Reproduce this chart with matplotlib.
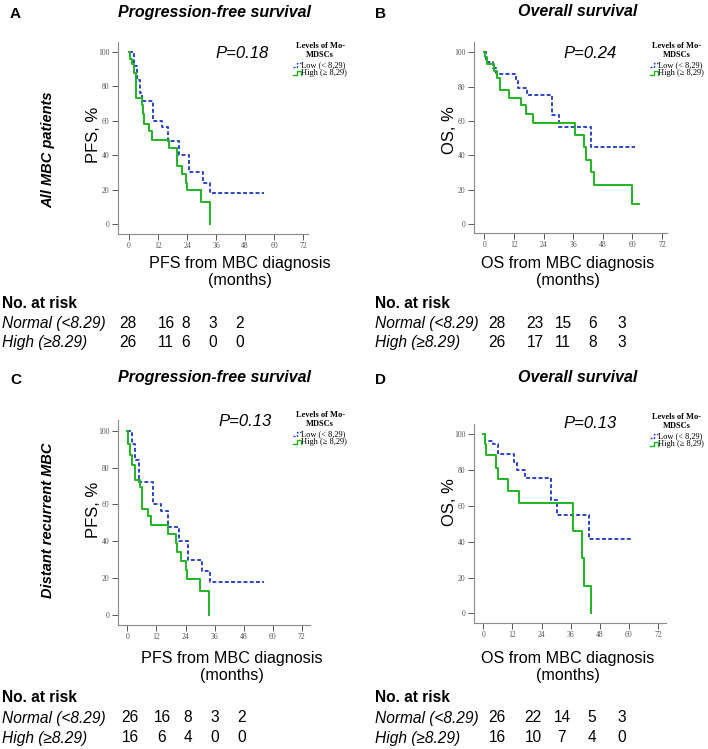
import matplotlib
matplotlib.use("Agg")
import matplotlib.pyplot as plt
from matplotlib.lines import Line2D

# ---- data (months, % surviving) ----
# Panel A: PFS, all MBC patients
pfs_all_low_t = [0, 2.0, 3.3, 4.5, 5.2, 10.0, 13.5, 16.0, 20.7, 24.8, 30.5, 33.5, 56.0]
pfs_all_low_s = [100, 92, 84, 76, 71.5, 60, 56.5, 48, 40, 30, 24, 18, 18]
pfs_all_high_t = [0, 0.5, 1.1, 2.0, 3.0, 5.2, 5.6, 6.0, 8.3, 9.5, 16.5, 19.7, 20.0, 21.9, 23.6, 24.1, 29.7, 33.5]
pfs_all_high_s = [100, 96, 93, 88, 73, 69, 64, 58, 54, 49, 44, 39, 34, 29, 24, 19.6, 13, 0]

# Panel B: OS, all MBC patients
os_all_low_t = [0, 0.5, 3.6, 4.7, 5.7, 12.7, 13.8, 17.4, 27.5, 30.3, 43.4, 60.9]
os_all_low_s = [100, 94, 91, 88, 87, 83, 79, 75, 63.4, 56.5, 45, 45]
os_all_high_t = [0, 0.3, 1.0, 4.0, 5.0, 6.3, 10.0, 14.7, 17.1, 19.8, 36.7, 40.4, 41.1, 43.1, 44.3, 60.0, 62.6]
os_all_high_s = [100, 97, 93, 89, 85, 78, 73.5, 69, 64, 59, 52, 45, 37, 30, 22.5, 11.5, 11.5]

# Panel C: PFS, distant recurrent MBC
pfs_dr_low_t = [0, 2.0, 3.3, 4.8, 10.6, 13.8, 16.8, 21.2, 25.1, 30.9, 34.0, 56.4]
pfs_dr_low_s = [100, 93, 84, 72, 60.4, 56.4, 48, 40, 30, 24, 17.7, 17.7]
pfs_dr_high_t = [0, 0.3, 1.0, 2.0, 3.0, 5.3, 6.0, 8.5, 9.6, 16.7, 20.0, 20.3, 22.2, 24.1, 24.7, 29.9, 33.5]
pfs_dr_high_s = [100, 93, 87, 81.6, 73, 69.4, 57.7, 53.5, 49, 44, 39, 34.2, 29.2, 24.3, 19.8, 13, 0]

# Panel D: OS, distant recurrent MBC
os_dr_low_t = [0, 0.5, 4.1, 6.2, 12.6, 14.0, 17.3, 27.8, 30.2, 43.5, 61.4]
os_dr_low_s = [100, 96, 94, 88.5, 84.4, 80, 75.5, 63, 55, 41.4, 41.4]
os_dr_high_t = [0, 0.5, 1.0, 5.2, 6.2, 10.1, 14.8, 36.8, 40.7, 41.4, 44.5]
os_dr_high_s = [100, 94, 88, 81, 75, 68, 61.3, 46, 31, 15.4, 0]

# numbers at risk
risk_rows = ["Normal (<8.29)", "High (\u22658.29)"]
risk_a = [[28, 16, 8, 3, 2], [26, 11, 6, 0, 0]]
risk_b = [[28, 23, 15, 6, 3], [26, 17, 11, 8, 3]]
risk_c = [[26, 16, 8, 3, 2], [16, 6, 4, 0, 0]]
risk_d = [[26, 22, 14, 5, 3], [16, 10, 7, 4, 0]]

p_values = ["P=0.18", "P=0.24", "P=0.13", "P=0.13"]
xticks = [0, 12, 24, 36, 48, 60, 72]
yticks = [0, 20, 40, 60, 80, 100]

W, H = 708, 749
BLUE = "#2b44c4"
GREEN = "#1fb51f"
SANS = "Liberation Sans"
SERIF = "Liberation Serif"

fig = plt.figure(figsize=(W / 100, H / 100), dpi=100)


def fx(x):
    return x / W


def fy(y):
    return 1 - y / H


def txt(x, y, s, **kw):
    kw.setdefault("family", SANS)
    fig.text(fx(x), fy(y), s, **kw)


def make_axes(left, right, top, bottom, xlim, ylim):
    ax = fig.add_axes([fx(left), fy(bottom), (right - left) / W, (bottom - top) / H])
    ax.set_xlim(*xlim)
    ax.set_ylim(*ylim)
    for s in ["top", "right"]:
        ax.spines[s].set_visible(False)
    for s in ["left", "bottom"]:
        ax.spines[s].set_color("#8a8a8a")
        ax.spines[s].set_linewidth(0.8)
    ax.set_xticks(xticks)
    ax.set_yticks(yticks)
    ax.tick_params(direction="out", length=4, width=0.7, colors="#555555",
                   labelsize=5.5, pad=2)
    for lab in ax.get_xticklabels() + ax.get_yticklabels():
        lab.set_family(SERIF)
    return ax


def km(ax, t, s, color, ls):
    ax.step(t, s, where="post", color=color, linestyle=ls, lw=1.4,
            dashes=(2, 1.2) if ls == "--" else (None, None))


def legend(x, y):
    # x,y = pixel position of the legend title centre / top
    txt(x, y, "Levels of Mo-\nMDSCs", family=SERIF, fontsize=6, fontweight="bold",
        ha="center", va="top", linespacing=1.1)
    ly = y + 23
    fig.add_artist(Line2D([fx(x - 27), fx(x - 23), fx(x - 23), fx(x - 19)],
                          [fy(ly + 2), fy(ly + 2), fy(ly - 2), fy(ly - 2)],
                          color=BLUE, lw=1.0, ls=(0, (1.5, 1))))
    txt(x - 19, ly, "Low (< 8,29)", family=SERIF, fontsize=6, va="center")
    ly2 = ly + 8
    fig.add_artist(Line2D([fx(x - 27), fx(x - 23), fx(x - 23), fx(x - 19), fx(x - 19)],
                          [fy(ly2 + 2), fy(ly2 + 2), fy(ly2 - 2), fy(ly2 - 2), fy(ly2 + 2)],
                          color=GREEN, lw=1.0))
    txt(x - 19, ly2, "High (\u2265 8,29)", family=SERIF, fontsize=6, va="center")


def risk_table(x0, y0, cols, rows):
    txt(x0, y0, "No. at risk", fontsize=11.2, fontweight="bold", va="center")
    for i, (name, vals) in enumerate(zip(risk_rows, rows)):
        yy = y0 + 20 + 20 * i
        txt(x0, yy, name, fontsize=11.2, style="italic", va="center")
        for cx, v in zip(cols, vals):
            txt(cx, yy, str(v), fontsize=11.2, ha="center", va="center")


# ---- panel A ----
axA = make_axes(118, 308, 42, 234, (-4.55, 74), (-5.8, 105.8))
km(axA, pfs_all_low_t, pfs_all_low_s, BLUE, "--")
km(axA, pfs_all_high_t, pfs_all_high_s, GREEN, "-")

# ---- panel B ----
axB = make_axes(474, 667, 42, 233, (-4.16, 74), (-5.2, 105.9))
km(axB, os_all_low_t, os_all_low_s, BLUE, "--")
km(axB, os_all_high_t, os_all_high_s, GREEN, "-")

# ---- panel C ----
axC = make_axes(118, 310, 420, 625, (-3.9, 75.4), (-5.4, 105.8))
km(axC, pfs_dr_low_t, pfs_dr_low_s, BLUE, "--")
km(axC, pfs_dr_high_t, pfs_dr_high_s, GREEN, "-")

# ---- panel D ----
axD = make_axes(474, 666, 424, 623, (-3.85, 75.3), (-5.3, 105.4))
km(axD, os_dr_low_t, os_dr_low_s, BLUE, "--")
km(axD, os_dr_high_t, os_dr_high_s, GREEN, "-")

# panel letters and titles
for lx, ly, letter in [(10, 14, "A"), (375, 14, "B"), (10, 380, "C"), (375, 380, "D")]:
    txt(lx, ly, letter, fontsize=11, fontweight="bold", va="center")
title_kw = dict(fontsize=11.5, fontweight="bold", style="italic", ha="center", va="center")
txt(215, 12, "Progression-free survival", **title_kw)
txt(578, 12, "Overall survival", **title_kw)
txt(215, 378, "Progression-free survival", **title_kw)
txt(578, 378, "Overall survival", **title_kw)

# side labels
txt(48, 150, "All MBC patients", fontsize=10.5, fontweight="bold", style="italic",
    rotation=90, ha="center", va="center")
txt(48, 520, "Distant recurrent MBC", fontsize=10.5, fontweight="bold", style="italic",
    rotation=90, ha="center", va="center")

# y labels
txt(93, 135, "PFS, %", fontsize=12, rotation=90, ha="center", va="center")
txt(450, 130, "OS, %", fontsize=12, rotation=90, ha="center", va="center")
txt(93, 510, "PFS, %", fontsize=12, rotation=90, ha="center", va="center")
txt(450, 502, "OS, %", fontsize=12, rotation=90, ha="center", va="center")

# x labels
xl_kw = dict(fontsize=11.6, ha="center", va="center", linespacing=1.15)
txt(240, 272, "PFS from MBC diagnosis\n(months)", **xl_kw)
txt(568, 272, "OS from MBC diagnosis\n(months)", **xl_kw)
txt(232, 667, "PFS from MBC diagnosis\n(months)", **xl_kw)
txt(568, 667, "OS from MBC diagnosis\n(months)", **xl_kw)

# P values
for (px, py), p in zip([(242, 53), (590, 53), (245, 421), (590, 423)], p_values):
    txt(px, py, p, fontsize=12, style="italic", ha="center", va="center")

# legends
legend(320, 42)
legend(677, 42)
legend(320, 411)
legend(677, 413)

# numbers at risk
risk_table(2, 303, [128, 166, 186, 213, 240], risk_a)
risk_table(375, 303, [497, 535, 563, 593, 622], risk_b)
risk_table(2, 698, [130, 162, 188, 215, 242], risk_c)
risk_table(375, 698, [497, 533, 562, 592, 622], risk_d)

fig.savefig("out.png", dpi=100)
